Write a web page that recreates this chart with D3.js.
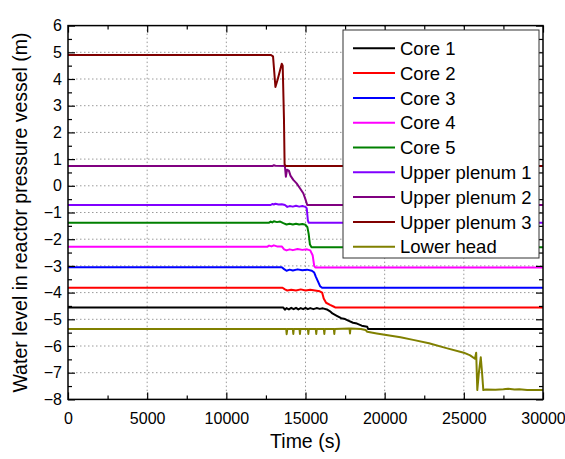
<!DOCTYPE html>
<html>
<head>
<meta charset="utf-8">
<script src="https://cdn.jsdelivr.net/npm/d3@7"></script>
<style>
  html, body { margin: 0; padding: 0; background: #fff; }
  svg { display: block; font-family: "Liberation Sans", Arial, sans-serif; }
  .grid line { stroke: #9a9a9a; stroke-width: 1; stroke-dasharray: 1.5 2.5; }
  .axis path { display: none; }
  .axis line { stroke: #000; stroke-width: 1.2; }
  .axis text { font-size: 16px; fill: #000; }
</style>
</head>
<body>
<svg id="chart" width="565" height="459"></svg>
<script>
// Water level series, [time (s), level (m)]
const seriesNames = ["Core 1", "Core 2", "Core 3", "Core 4", "Core 5",
  "Upper plenum 1", "Upper plenum 2", "Upper plenum 3", "Lower head"];
const seriesColors = ["#000000", "#ff0000", "#0000ff", "#ff00ff", "#008000",
  "#8000ff", "#800080", "#800000", "#808000"];

const core1 = [[0,-4.56],[13600,-4.56],[13700,-4.64],[13800,-4.58],[13950,-4.63],[14100,-4.57],
  [14250,-4.62],[14400,-4.57],[14550,-4.63],[14700,-4.58],[14850,-4.62],[15000,-4.57],[15150,-4.62],
  [15300,-4.58],[15500,-4.62],[15700,-4.58],[15900,-4.61],[16100,-4.59],[16350,-4.63],[16550,-4.70],
  [16700,-4.78],[16950,-4.86],[17250,-4.96],[17500,-4.99],[17700,-5.05],[18000,-5.13],[18250,-5.16],
  [18550,-5.24],[18900,-5.28],[18950,-5.36],[30000,-5.36]];
const core2 = [[0,-3.82],[13550,-3.82],[13700,-3.88],[13850,-3.92],[14100,-3.89],[14400,-3.92],
  [14700,-3.88],[15000,-3.92],[15300,-3.89],[15600,-3.92],[15900,-3.95],[16050,-4.00],[16150,-4.22],
  [16300,-4.38],[16550,-4.46],[16800,-4.53],[16900,-4.56],[30000,-4.56]];
const core3 = [[0,-3.05],[13500,-3.05],[13650,-3.12],[13800,-3.18],[14000,-3.14],[14200,-3.17],
  [14500,-3.13],[14800,-3.16],[15100,-3.14],[15400,-3.18],[15550,-3.25],[15650,-3.40],[15800,-3.60],
  [15920,-3.76],[16050,-3.82],[30000,-3.82]];
const core4 = [[0,-2.28],[12600,-2.28],[12700,-2.24],[12850,-2.27],[13000,-2.23],[13200,-2.27],
  [13500,-2.27],[13650,-2.38],[13800,-2.42],[14000,-2.38],[14200,-2.41],[14500,-2.37],[14800,-2.40],
  [15100,-2.38],[15300,-2.42],[15450,-2.60],[15550,-3.00],[15620,-3.06],[30000,-3.06]];
const core5 = [[0,-1.38],[12700,-1.38],[12800,-1.34],[12900,-1.37],[13000,-1.33],[13200,-1.36],
  [13400,-1.34],[13600,-1.40],[13800,-1.45],[14000,-1.42],[14200,-1.45],[14400,-1.42],[14600,-1.45],
  [14800,-1.43],[15000,-1.46],[15120,-1.55],[15200,-1.80],[15280,-2.20],[15380,-2.30],[30000,-2.30]];
const upperPlenum1 = [[0,-0.72],[12800,-0.72],[12900,-0.68],[13000,-0.70],[13100,-0.67],[13300,-0.70],
  [13500,-0.69],[13700,-0.72],[13850,-0.79],[14000,-0.76],[14200,-0.78],[14400,-0.75],[14600,-0.78],
  [14800,-0.76],[15000,-0.79],[15080,-0.85],[15150,-1.30],[15200,-1.38],[30000,-1.38]];
const upperPlenum2 = [[0,0.74],[12900,0.74],[13000,0.77],[13100,0.75],[13700,0.74],[13760,0.34],
  [13830,0.60],[13950,0.57],[14050,0.38],[14230,0.22],[14440,0.09],[14650,-0.09],[14860,-0.28],
  [15010,-0.53],[15110,-0.72],[30000,-0.72]];
const upperPlenum3 = [[0,4.90],[12800,4.90],[12950,4.85],[13100,3.70],[13250,4.00],[13500,4.57],
  [13560,4.50],[13640,2.50],[13680,0.80],[13760,0.74],[30000,0.74]];
const lowerHead = [[0,-5.36],[13780,-5.36],[13810,-5.56],[13850,-5.36],[14200,-5.36],[14230,-5.55],
  [14260,-5.36],[14620,-5.36],[14650,-5.55],[14680,-5.36],[15150,-5.36],[15180,-5.55],[15210,-5.36],
  [15650,-5.36],[15680,-5.55],[15710,-5.36],[16160,-5.36],[16190,-5.55],[16220,-5.36],[16790,-5.36],
  [16820,-5.55],[16850,-5.36],[17780,-5.34],[17810,-5.53],[17840,-5.34],[18500,-5.36],[18800,-5.40],
  [18900,-5.47],[19500,-5.53],[20100,-5.59],[21000,-5.67],[21800,-5.77],[22800,-5.90],[23900,-6.08],
  [25000,-6.25],[25400,-6.35],[25700,-6.48],[25780,-6.25],[25850,-7.65],[25950,-7.00],[26070,-6.42],
  [26150,-7.00],[26230,-7.65],[26400,-7.63],[27000,-7.64],[27500,-7.62],[27800,-7.60],[28200,-7.63],
  [28500,-7.62],[29000,-7.65],[30000,-7.65]];

const seriesData = [core1, core2, core3, core4, core5,
  upperPlenum1, upperPlenum2, upperPlenum3, lowerHead];

const xTicks = [0, 5000, 10000, 15000, 20000, 25000, 30000];
const xMinorTicks = [2500, 7500, 12500, 17500, 22500, 27500];
const yTicks = [-8, -7, -6, -5, -4, -3, -2, -1, 0, 1, 2, 3, 4, 5, 6];
const yMinorTicks = [-7.5, -6.5, -5.5, -4.5, -3.5, -2.5, -1.5, -0.5, 0.5, 1.5, 2.5, 3.5, 4.5, 5.5];

const margin = { left: 68, right: 543, top: 25.6, bottom: 399.4 };
const svg = d3.select("#chart");

const x = d3.scaleLinear().domain([0, 30000]).range([margin.left, margin.right]);
const y = d3.scaleLinear().domain([-8, 6]).range([margin.bottom, margin.top]);

// dotted grid at the major ticks
const grid = svg.append("g").attr("class", "grid");
grid.selectAll(".gx").data(xTicks.slice(1, -1)).join("line")
  .attr("x1", d => x(d)).attr("x2", d => x(d))
  .attr("y1", margin.top).attr("y2", margin.bottom);
grid.selectAll(".gy").data(yTicks.slice(1, -1)).join("line")
  .attr("y1", d => y(d)).attr("y2", d => y(d))
  .attr("x1", margin.left).attr("x2", margin.right);

// series lines, clipped to the plot frame
svg.append("clipPath").attr("id", "plotClip").append("rect")
  .attr("x", margin.left).attr("y", margin.top)
  .attr("width", margin.right - margin.left).attr("height", margin.bottom - margin.top);

const line = d3.line().x(d => x(d[0])).y(d => y(d[1]));
const lines = svg.append("g").attr("clip-path", "url(#plotClip)");
seriesData.forEach((s, i) => {
  lines.append("path").datum(s)
    .attr("d", line)
    .attr("fill", "none")
    .attr("stroke", seriesColors[i])
    .attr("stroke-width", 2)
    .attr("stroke-linejoin", "round");
});

// axes: ticks point inward on all four sides
const fmt = d3.format("d");
svg.append("g").attr("class", "axis")
  .attr("transform", `translate(0,${margin.bottom})`)
  .call(d3.axisBottom(x).tickValues(xTicks).tickFormat(fmt).tickSize(-7).tickPadding(13));
svg.append("g").attr("class", "axis")
  .attr("transform", `translate(0,${margin.bottom})`)
  .call(d3.axisBottom(x).tickValues(xMinorTicks).tickFormat("").tickSize(-4));
svg.append("g").attr("class", "axis")
  .attr("transform", `translate(0,${margin.top})`)
  .call(d3.axisTop(x).tickValues(xTicks).tickFormat("").tickSize(-7));
svg.append("g").attr("class", "axis")
  .attr("transform", `translate(0,${margin.top})`)
  .call(d3.axisTop(x).tickValues(xMinorTicks).tickFormat("").tickSize(-4));

svg.append("g").attr("class", "axis")
  .attr("transform", `translate(${margin.left},0)`)
  .call(d3.axisLeft(y).tickValues(yTicks).tickFormat(fmt).tickSize(-7).tickPadding(6));
svg.append("g").attr("class", "axis")
  .attr("transform", `translate(${margin.left},0)`)
  .call(d3.axisLeft(y).tickValues(yMinorTicks).tickFormat("").tickSize(-4));
svg.append("g").attr("class", "axis")
  .attr("transform", `translate(${margin.right},0)`)
  .call(d3.axisRight(y).tickValues(yTicks).tickFormat("").tickSize(-7));
svg.append("g").attr("class", "axis")
  .attr("transform", `translate(${margin.right},0)`)
  .call(d3.axisRight(y).tickValues(yMinorTicks).tickFormat("").tickSize(-4));

svg.selectAll(".axis text").attr("font-family", null).attr("font-size", null);

// plot frame
svg.append("rect")
  .attr("x", margin.left).attr("y", margin.top)
  .attr("width", margin.right - margin.left).attr("height", margin.bottom - margin.top)
  .attr("fill", "none").attr("stroke", "#000").attr("stroke-width", 1.5);

// axis titles
svg.append("text")
  .attr("x", (margin.left + margin.right) / 2).attr("y", 448)
  .attr("text-anchor", "middle").attr("font-size", 19.5)
  .text("Time (s)");
svg.append("text")
  .attr("transform", `translate(27,${(margin.top + margin.bottom) / 2}) rotate(-90)`)
  .attr("text-anchor", "middle").attr("font-size", 19.5)
  .text("Water level in reactor pressure vessel (m)");

// legend
const legend = svg.append("g");
legend.append("rect")
  .attr("x", 343).attr("y", 30).attr("width", 196).attr("height", 228)
  .attr("fill", "#fff").attr("stroke", "#333").attr("stroke-width", 1);
seriesNames.forEach((name, i) => {
  const ly = 48.3 + i * 24.8;
  legend.append("line")
    .attr("x1", 353).attr("x2", 395).attr("y1", ly).attr("y2", ly)
    .attr("stroke", seriesColors[i]).attr("stroke-width", 2);
  legend.append("text")
    .attr("x", 400).attr("y", ly).attr("dy", "0.36em")
    .attr("font-size", 18.5)
    .text(name);
});
</script>
</body>
</html>
